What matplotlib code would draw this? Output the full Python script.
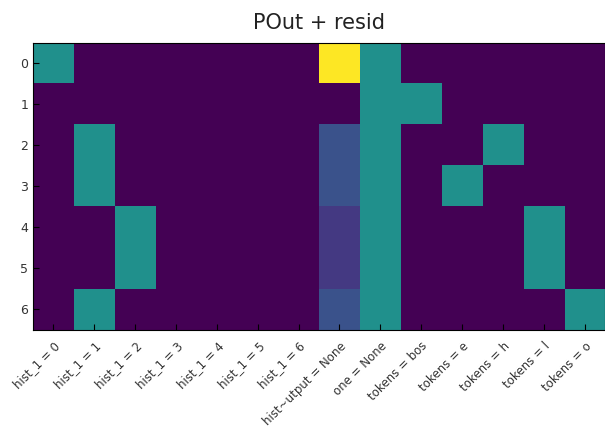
import numpy as np
import matplotlib
matplotlib.use("Agg")
import matplotlib.pyplot as plt

# column labels (features)
cols = ["hist_1 = 0", "hist_1 = 1", "hist_1 = 2", "hist_1 = 3", "hist_1 = 4",
        "hist_1 = 5", "hist_1 = 6", "hist~utput = None", "one = None",
        "tokens = bos", "tokens = e", "tokens = h", "tokens = l", "tokens = o"]
rows = ["0", "1", "2", "3", "4", "5", "6"]

# values per column, one entry per row
hist_0 = [0.5, 0, 0, 0, 0, 0, 0]
hist_1 = [0, 0, 0.5, 0.5, 0, 0, 0.5]
hist_2 = [0, 0, 0, 0, 0.5, 0.5, 0]
hist_3 = [0, 0, 0, 0, 0, 0, 0]
hist_4 = [0, 0, 0, 0, 0, 0, 0]
hist_5 = [0, 0, 0, 0, 0, 0, 0]
hist_6 = [0, 0, 0, 0, 0, 0, 0]
hist_out = [1.0, 0, 0.25, 0.25, 0.167, 0.167, 0.25]
one = [0.5, 0.5, 0.5, 0.5, 0.5, 0.5, 0.5]
tok_bos = [0, 0.5, 0, 0, 0, 0, 0]
tok_e = [0, 0, 0, 0.5, 0, 0, 0]
tok_h = [0, 0, 0.5, 0, 0, 0, 0]
tok_l = [0, 0, 0, 0, 0.5, 0.5, 0]
tok_o = [0, 0, 0, 0, 0, 0, 0.5]

M = np.array([hist_0, hist_1, hist_2, hist_3, hist_4, hist_5, hist_6,
              hist_out, one, tok_bos, tok_e, tok_h, tok_l, tok_o]).T

fig = plt.figure(figsize=(6.05, 4.33), dpi=100)
ax = fig.add_axes([0.0545, 0.238, 0.9455, 0.663])
ax.imshow(M, cmap="viridis", vmin=0, vmax=1, aspect="auto", interpolation="nearest")
ax.set_xticks(range(len(cols)))
ax.set_xticklabels(cols, rotation=45, ha="right", rotation_mode="anchor", fontsize=8.5, color="#333333")
ax.set_yticks(range(len(rows)))
ax.set_yticklabels(rows, fontsize=9, color="#333333")
ax.tick_params(direction="in", length=4, color="black")
ax.tick_params(axis="x", pad=7)
ax.set_title("POut + resid", fontsize=15, color="#222222", pad=10)
for s in ax.spines.values():
    s.set_linewidth(0.8)

fig.savefig("out.png", dpi=100)
